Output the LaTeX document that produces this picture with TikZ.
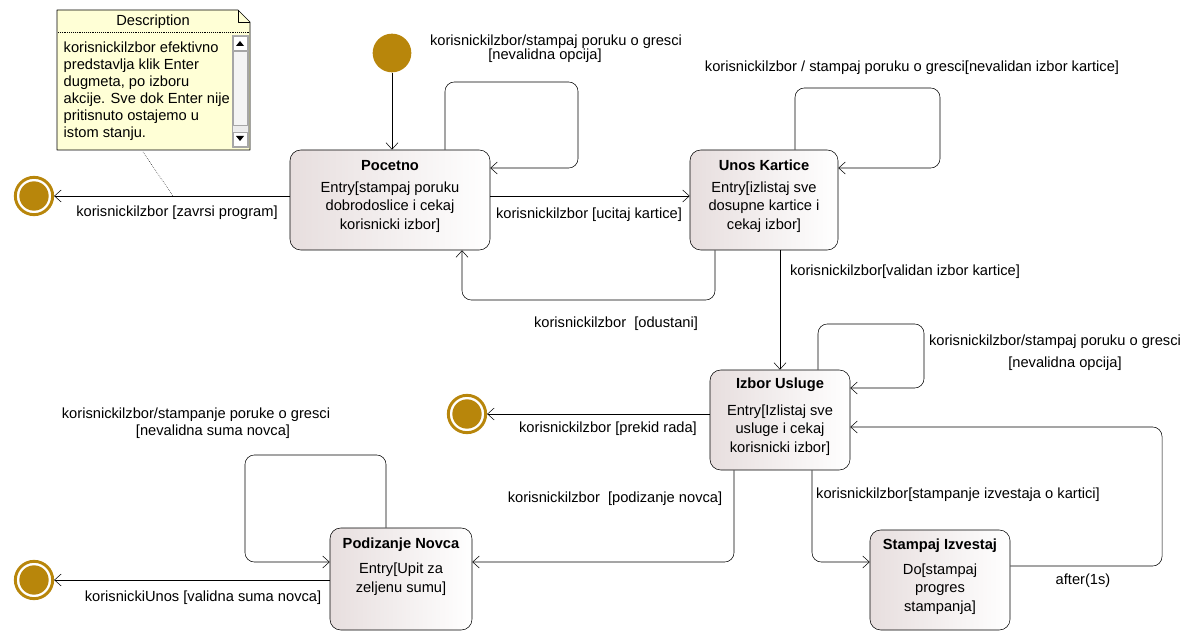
\documentclass[tikz,border=0pt]{standalone}
\usepackage{fontspec}
\setmainfont{Liberation Sans}
\usetikzlibrary{arrows.meta,calc}
\definecolor{gold}{RGB}{184,134,11}
\definecolor{statefill}{RGB}{231,222,222}
\definecolor{notefill}{RGB}{255,255,214}
\definecolor{scrollgray}{RGB}{236,236,236}
\begin{document}
\begin{tikzpicture}[x=0.75pt, y=-0.75pt, font=\fontsize{11}{13.9}\selectfont, line join=round, >={Straight Barb[length=5pt,width=9pt]},
 state/.style={draw, rounded corners=8pt, left color=statefill, right color=white, inner sep=0},
 title/.style={font=\fontsize{11}{13.9}\selectfont\bfseries},
 body/.style={align=center},
 trans/.style={->, rounded corners=7pt},
 initial/.style={circle, fill=gold, minimum size=29pt, inner sep=0},
 final/.style={circle, draw=gold, line width=2.2pt, minimum size=28pt, inner sep=0,
   path picture={\fill[gold] (path picture bounding box.center) circle (11pt);}}]
 \useasboundingbox (0,0) rectangle (1202,641);
 % note
 \draw[fill=notefill] (57,10) -- (238,10) -- (250,22) -- (250,150) -- (57,150) -- cycle;
 \draw (238,10) -- (238,22) -- (250,22);
 \draw[densely dotted] (58,32) -- (249,32);
 \node (desc) at (153,22) {Description};
 \node[align=left, anchor=north west, font=\fontsize{11}{12.75}\selectfont] (desc-b) at (59,37)
  {korisnickilzbor efektivno\\predstavlja klik Enter\\dugmeta, po izboru\\akcije. Sve dok Enter nije\\pritisnuto ostajemo u\\istom stanju.};
 \draw[gray!70, fill=scrollgray] (232,35) rectangle (248,147);
 \draw[gray!70, fill=white] (233,36) rectangle (247,50) (233,132) rectangle (247,146);
 \draw[gray!70, fill=scrollgray!60] (233,51) rectangle (247,125);
 \fill (236,46) -- (244,46) -- (240,41) -- cycle;
 \fill (236,136) -- (244,136) -- (240,141) -- cycle;
 \coordinate (notebot) at (143,152);
 % states
 \node[initial] (start) at (392,53) {};
 \node[state, minimum width=150pt, minimum height=75pt] (pocetno) at (390,200) {};
 \node[state, minimum width=111pt, minimum height=75pt] (unos) at (764,200) {};
 \node[state, minimum width=105pt, minimum height=75pt] (izbor) at (780,420) {};
 \node[state, minimum width=106.5pt, minimum height=76.5pt] (podizanje) at (401,579) {};
 \node[state, minimum width=105pt, minimum height=75pt] (stampaj) at (940,580) {};
 \node[final] (fin1) at (34,196) {};
 \node[final] (fin2) at (467,414) {};
 \node[final] (fin3) at (34,580) {};
 \node[title] (pocetno-t) at (390,166) {Pocetno};
 \node[body] (pocetno-b) at (390,207) {Entry[stampaj poruku\\dobrodoslice i cekaj\\korisnicki izbor]};
 \node[title] (unos-t) at (764,165) {Unos Kartice};
 \node[body] (unos-b) at (764,207) {Entry[izlistaj sve\\dosupne kartice i\\cekaj izbor]};
 \node[title] (izbor-t) at (780,385) {Izbor Usluge};
 \node[body] (izbor-b) at (780,430) {Entry[Izlistaj sve\\usluge i cekaj\\korisnicki izbor]};
 \node[title] (podizanje-t) at (401,545) {Podizanje Novca};
 \node[body] (podizanje-b) at (401,579) {Entry[Upit za\\zeljenu sumu]};
 \node[title] (stampaj-t) at (940,546) {Stampaj Izvestaj};
 \node[body] (stampaj-b) at (940,589) {Do[stampaj\\progres\\stampanja]};
 % loop corners
 \coordinate (pocA) at (578,82);
 \coordinate (unosA) at (940,88);
 \coordinate (izbA) at (924,324);
 \coordinate (podA) at (245,455);
 \coordinate (odA) at (600,300);
 \coordinate (retA) at (1162,500);
 \coordinate (noteA) at (173,196);
 % transitions
 \draw[->] (start) -- (start |- pocetno.north);
 \draw[trans] ($(pocetno.north)+(55,0)$) |- (pocA) |- ($(pocetno.east)+(0,-32)$);
 \draw[->] (pocetno.west |- fin1) -- (fin1);
 \draw[densely dotted] (notebot) -- (noteA);
 \draw[->] ($(pocetno.east)+(0,-4)$) -- ($(unos.west)+(0,-4)$);
 \draw[trans] ($(unos.south)+(-49,0)$) |- (odA) -| ($(pocetno.south)+(72,0)$);
 \draw[trans] ($(unos.north)+(31,0)$) |- (unosA) |- ($(unos.east)+(0,-32)$);
 \draw[->] (izbor.north |- unos.south) -- (izbor.north);
 \draw[trans] ($(izbor.north)+(38,0)$) |- (izbA) |- ($(izbor.east)+(0,-32)$);
 \draw[->] (izbor.west |- fin2) -- (fin2);
 \draw[trans] ($(izbor.south)+(-46,0)$) |- ($(podizanje.east)+(0,-17)$);
 \draw[trans] ($(izbor.south)+(32,0)$) |- ($(stampaj.west)+(0,-18)$);
 \draw[trans] ($(stampaj.east)+(0,-14)$) -| (retA) |- ($(izbor.east)+(0,7)$);
 \draw[trans] ($(podizanje.north)+(-15,0)$) |- (podA) |- ($(podizanje.west)+(0,-17)$);
 \draw[->] (podizanje.west |- fin3) -- (fin3);
 % labels
 \path
 (556,42) node (l1) {korisnickilzbor/stampaj poruku o gresci}
 (545,56) node (l2) {[nevalidna opcija]}
 (912,68) node (l3) {korisnickilzbor / stampaj poruku o gresci[nevalidan izbor kartice]}
 (177,213) node (l4) {korisnickilzbor [zavrsi program]}
 (589,215) node (l5) {korisnickilzbor [ucitaj kartice]}
 (616,324) node (l6) {korisnickilzbor\ \ [odustani]}
 (905,272) node (l7) {korisnickilzbor[validan izbor kartice]}
 (1055,342) node (l8) {korisnickilzbor/stampaj poruku o gresci}
 (1065,364) node (l9) {[nevalidna opcija]}
 (196,415) node (l10) {korisnickilzbor/stampanje poruke o gresci}
 (213,432) node (l11) {[nevalidna suma novca]}
 (608,429) node (l12) {korisnickilzbor [prekid rada]}
 (615,499) node (l13) {korisnickilzbor\ \ [podizanje novca]}
 (958,495) node (l14) {korisnickilzbor[stampanje izvestaja o kartici]}
 (1083,581) node (l15) {after(1s)}
 (203,598) node (l16) {korisnickiUnos [validna suma novca]};
\end{tikzpicture}
\end{document}
